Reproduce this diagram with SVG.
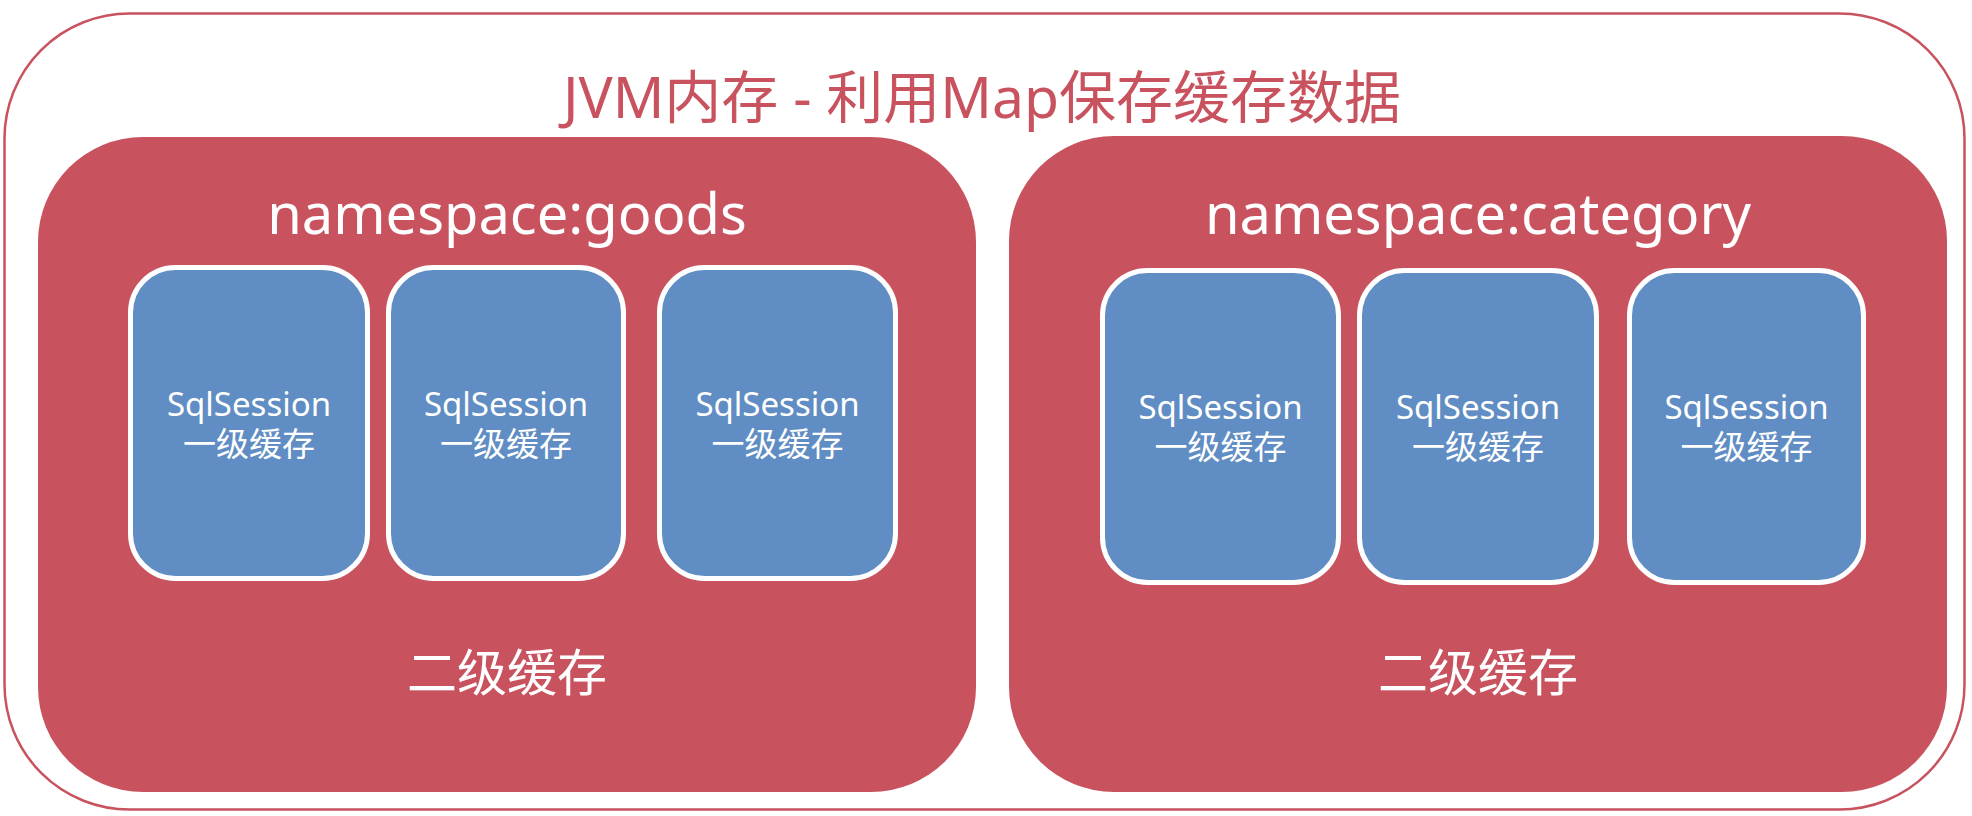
<svg xmlns="http://www.w3.org/2000/svg" width="1972" height="816" viewBox="0 0 1972 816">
<style>
.outer{fill:#ffffff;stroke:#c8535f;stroke-width:2.5}
.ns{fill:#c8535f}
.sess{fill:#608dc3;stroke:#ffffff;stroke-width:5}
.t{font-family:"Noto Sans","Noto Sans CJK SC",sans-serif;text-anchor:middle}
.title{fill:#c8535f;font-size:57px}
.nst{fill:#ffffff;font-size:56px}
.l2{fill:#ffffff;font-size:50px}
.st{fill:#ffffff;font-size:33px}
</style>
<rect x="0" y="0" width="1972" height="816" fill="#ffffff"/>
<g id="jvm">
<rect class="outer" x="4.5" y="13.5" width="1960" height="796" rx="125" ry="125"/>
<text class="t title" x="982" y="118">JVM内存 - 利用Map保存缓存数据</text>
</g>
<g id="ns-goods">
<rect class="ns" x="38" y="137" width="938" height="655" rx="105" ry="105"/>
<text class="t nst" x="507" y="234">namespace:goods</text>
<text class="t l2" x="507" y="691">二级缓存</text>
</g>
<g id="ns-category">
<rect class="ns" x="1009" y="136" width="938" height="656" rx="105" ry="105"/>
<text class="t nst" x="1478" y="234">namespace:category</text>
<text class="t l2" x="1478" y="691">二级缓存</text>
</g>
<g id="s1">
<rect class="sess" x="130.5" y="267.5" width="237" height="311" rx="45"/>
<text class="t st"><tspan x="249" y="416">SqlSession</tspan><tspan x="249" y="456">一级缓存</tspan></text>
</g>
<g id="s2">
<rect class="sess" x="388.5" y="267.5" width="235" height="311" rx="45"/>
<text class="t st"><tspan x="506" y="416">SqlSession</tspan><tspan x="506" y="456">一级缓存</tspan></text>
</g>
<g id="s3">
<rect class="sess" x="659.5" y="267.5" width="236" height="311" rx="45"/>
<text class="t st"><tspan x="777.5" y="416">SqlSession</tspan><tspan x="777.5" y="456">一级缓存</tspan></text>
</g>
<g id="s4">
<rect class="sess" x="1102.5" y="270.5" width="236" height="312" rx="45"/>
<text class="t st"><tspan x="1220.5" y="419">SqlSession</tspan><tspan x="1220.5" y="459">一级缓存</tspan></text>
</g>
<g id="s5">
<rect class="sess" x="1359.5" y="270.5" width="237" height="312" rx="45"/>
<text class="t st"><tspan x="1478" y="419">SqlSession</tspan><tspan x="1478" y="459">一级缓存</tspan></text>
</g>
<g id="s6">
<rect class="sess" x="1629.5" y="270.5" width="234" height="312" rx="45"/>
<text class="t st"><tspan x="1746.5" y="419">SqlSession</tspan><tspan x="1746.5" y="459">一级缓存</tspan></text>
</g>
<g id="connectors"></g>
</svg>
